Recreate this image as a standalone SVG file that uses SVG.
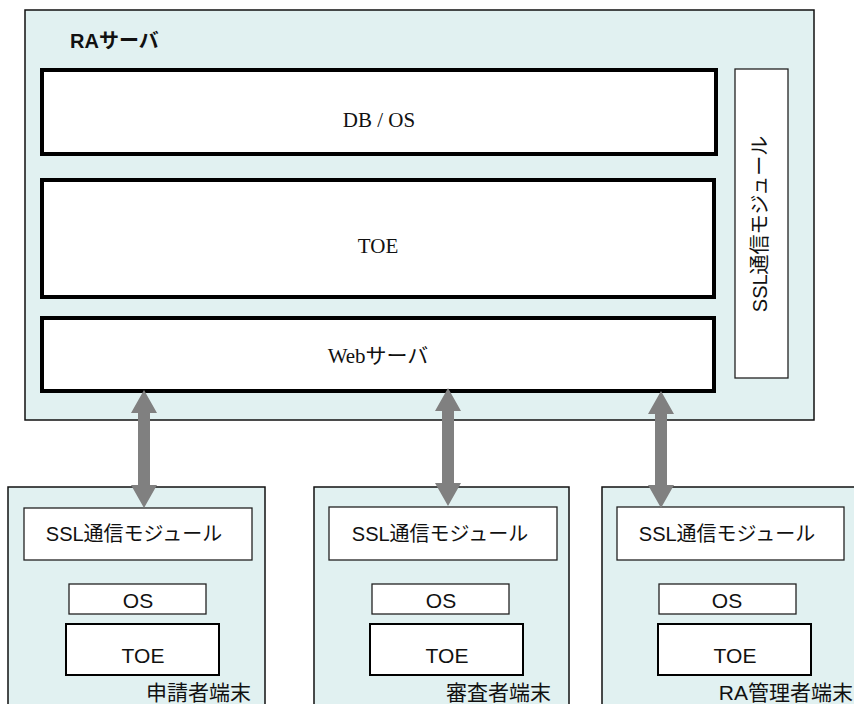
<svg xmlns="http://www.w3.org/2000/svg" width="854" height="704" viewBox="0 0 854 704">
<style>
.panel{fill:#e1f1f1;stroke:#111;stroke-width:1.5}
.thick{fill:#fff;stroke:#000;stroke-width:4}
.thin{fill:#fff;stroke:#222;stroke-width:1.3}
.mid{fill:#fff;stroke:#000;stroke-width:2}
.serif{font-family:"Liberation Serif","Noto Sans CJK JP",serif;font-size:21px;fill:#111;text-anchor:middle}
.sans{font-family:"Liberation Sans","Noto Sans CJK JP",sans-serif;fill:#111}
.arrow{fill:#808080}
</style>
<g id="ra-server">
<rect class="panel" x="25" y="10" width="789" height="410"/>
<text class="sans" x="70" y="48" font-size="20" font-weight="bold">RAサーバ</text>
</g>
<g id="db-os">
<rect class="thick" x="42" y="70" width="674" height="84"/>
<text class="serif" x="379" y="127">DB / OS</text>
</g>
<g id="toe-server">
<rect class="thick" x="42" y="180" width="672" height="117"/>
<text class="serif" x="378" y="253">TOE</text>
</g>
<g id="web-server">
<rect class="thick" x="42" y="318" width="672" height="73"/>
<text class="serif" x="378" y="363">Webサーバ</text>
</g>
<g id="ssl-server">
<rect class="thin" x="735" y="69" width="53" height="309"/>
<text class="sans" font-size="20" text-anchor="middle" transform="translate(767,224) rotate(-90)">SSL通信モジュール</text>
</g>
<g id="applicant">
<rect class="panel" x="8" y="487" width="257" height="230"/>
<rect class="thin" x="24" y="508" width="228" height="52"/>
<text class="sans" x="134" y="541" font-size="20" text-anchor="middle">SSL通信モジュール</text>
<rect class="thin" x="69" y="584" width="137" height="30"/>
<text class="sans" x="138" y="608" font-size="21" text-anchor="middle">OS</text>
<rect class="mid" x="66" y="624" width="153" height="51"/>
<text class="sans" x="143" y="663" font-size="21" text-anchor="middle">TOE</text>
<text class="sans" x="251" y="700" font-size="21" text-anchor="end">申請者端末</text>
</g>
<g id="reviewer">
<rect class="panel" x="314" y="487" width="255" height="230"/>
<rect class="thin" x="329" y="507" width="228" height="53"/>
<text class="sans" x="440" y="541" font-size="20" text-anchor="middle">SSL通信モジュール</text>
<rect class="thin" x="372" y="584" width="137" height="30"/>
<text class="sans" x="441" y="608" font-size="21" text-anchor="middle">OS</text>
<rect class="mid" x="370" y="624" width="153" height="51"/>
<text class="sans" x="447" y="663" font-size="21" text-anchor="middle">TOE</text>
<text class="sans" x="551" y="700" font-size="21" text-anchor="end">審査者端末</text>
</g>
<g id="ra-admin">
<rect class="panel" x="602" y="487" width="262" height="230"/>
<rect class="thin" x="617" y="507" width="227" height="53"/>
<text class="sans" x="727" y="541" font-size="20" text-anchor="middle">SSL通信モジュール</text>
<rect class="thin" x="659" y="584" width="137" height="30"/>
<text class="sans" x="727" y="608" font-size="21" text-anchor="middle">OS</text>
<rect class="mid" x="658" y="624" width="153" height="51"/>
<text class="sans" x="735" y="663" font-size="21" text-anchor="middle">TOE</text>
<text class="sans" x="853" y="700" font-size="21" text-anchor="end">RA管理者端末</text>
</g>
<g id="connectors">
<polygon class="arrow" points="144,390 157,413 150,413 150,485 157,485 144,508 131,485 138,485 138,413 131,413"/>
<polygon class="arrow" points="448,388 461,411 454,411 454,483 461,483 448,506 435,483 442,483 442,411 435,411"/>
<polygon class="arrow" points="661,391 674,414 667,414 667,485 674,485 661,508 648,485 655,485 655,414 648,414"/>
</g>
</svg>
